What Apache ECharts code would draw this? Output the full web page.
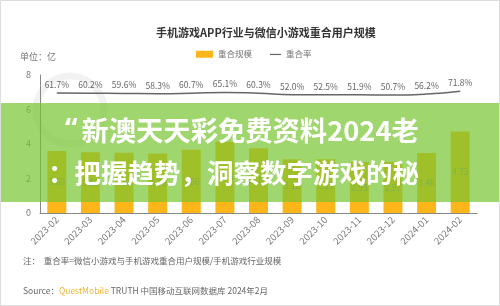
<!DOCTYPE html>
<html><head><meta charset="utf-8">
<script src="https://cdn.jsdelivr.net/npm/echarts@6/dist/echarts.min.js"></script>
<style>html,body{margin:0;padding:0;background:#fff}#c{width:500px;height:306px}</style>
</head><body><div id="c"></div>
<script>
const categories = ['2023-02','2023-03','2023-04','2023-05','2023-06','2023-07','2023-08','2023-09','2023-10','2023-11','2023-12','2024-01','2024-02'];
const overlapSize = [3.60, 3.52, 3.50, 3.45, 3.66, 4.15, 3.76, 3.12, 3.12, 2.95, 2.97, 3.48, 4.73];
const overlapRate = [61.7, 60.2, 59.6, 58.3, 60.7, 65.1, 60.3, 52.0, 52.5, 51.9, 50.7, 56.2, 71.8];
const yTicks = [0, 2, 4, 6, 8];
const titleText = '手机游戏APP行业与微信小游戏重合用户规模';
const seriesNames = ['重合规模', '重合率'];

const FONT = '"Noto Sans CJK SC", "Noto Sans", sans-serif';
const chart = echarts.init(document.getElementById('c'), null, {renderer: 'canvas'});
chart.setOption({
  animation: false,
  backgroundColor: '#fff',
  textStyle: {fontFamily: FONT},
  title: {
    text: titleText, left: 151, top: 22,
    textStyle: {fontSize: 11, fontWeight: 'bold', color: '#333', fontFamily: FONT}
  },
  legend: {
    left: 191, top: 45, itemWidth: 17, itemHeight: 7, itemGap: 12,
    textStyle: {fontSize: 8.5, color: '#777', fontFamily: FONT},
    data: [
      {name: seriesNames[0], icon: 'rect'},
      {name: seriesNames[1], icon: 'path://M0,0M6,3.1H17V4.3H6ZM17,7'}
    ]
  },
  grid: {left: 40, right: 23, top: 75, bottom: 93, containLabel: false},
  xAxis: {
    type: 'category', data: categories,
    axisLine: {show: true, lineStyle: {color: '#888', width: 1}},
    axisTick: {show: false},
    axisLabel: {rotate: 45, interval: 0, fontSize: 9.5, color: '#777', margin: 5, fontFamily: FONT}
  },
  yAxis: [
    {
      type: 'value', min: yTicks[0], max: yTicks[yTicks.length - 1], interval: 2,
      name: '单位：亿', nameLocation: 'end', nameGap: 14,
      nameTextStyle: {fontSize: 9, color: '#777', align: 'right', padding: [0, -16, 0, 0], fontFamily: FONT},
      axisLine: {show: true, lineStyle: {color: '#888', width: 1}},
      axisTick: {show: false},
      splitLine: {show: false},
      axisLabel: {fontSize: 9, color: '#777', margin: 9, fontFamily: FONT}
    },
    {
      type: 'value', min: -605, max: 162, show: false,
      splitLine: {show: false}
    }
  ],
  series: [
    {
      name: seriesNames[0], type: 'bar', data: overlapSize, barWidth: 19,
      itemStyle: {color: '#FDB61A'},
      label: {show: true, position: 'inside', fontSize: 8.5, color: '#888',
        formatter: p => p.value.toFixed(2), fontFamily: FONT}
    },
    {
      name: seriesNames[1], type: 'line', yAxisIndex: 1, data: overlapRate,
      smooth: true, symbol: 'circle', symbolSize: 0, showSymbol: true,
      lineStyle: {color: '#666', width: 1.5},
      itemStyle: {color: '#666'},
      label: {show: true, position: 'top', distance: 4, fontSize: 8.5, color: '#666',
        formatter: p => p.value.toFixed(1) + '%', fontFamily: FONT}
    }
  ],
  graphic: [
    {type: 'circle', shape: {cx: 70, cy: 110, r: 34}, style: {fill: 'none', stroke: 'rgba(0,0,0,0.05)', lineWidth: 7}, z: 0, silent: true},
    {type: 'rect', shape: {x: 0, y: 103, width: 500, height: 99}, style: {fill: 'rgba(119,196,48,0.7)'}, z: 100, silent: true},
    {type: 'text', left: 65, top: 117, z: 101, silent: true,
      style: {text: '{q|“}{t|新澳天天彩免费资料2024老}',
        rich: {
          q: {fill: '#fff', fontSize: 28, fontWeight: 'bold', fontFamily: '"Noto Sans", sans-serif', padding: [0, 4, 0, 0]},
          t: {fill: '#fff', fontSize: 27.3, fontWeight: 'bold', fontFamily: '"Noto Sans CJK SC", sans-serif'}
        }}},
    {type: 'text', left: 48, top: 160, z: 101, silent: true,
      style: {text: '：把握趋势，洞察数字游戏的秘', fill: '#fff', font: 'bold 26.5px "Noto Sans CJK SC", sans-serif'}},
    {type: 'text', left: 23, top: 257, z: 50, silent: true,
      style: {text: '注：  重合率=微信小游戏与手机游戏重合用户规模/手机游戏行业规模', fill: '#666', font: '8.5px "Noto Sans CJK SC", sans-serif'}},
    {type: 'text', left: 23, top: 287, z: 50, silent: true,
      style: {text: '{a|Source：}{b|QuestMobile}{a| TRUTH 中国移动互联网数据库 2024年2月}',
        rich: {
          a: {fill: '#666', fontSize: 8.5, fontFamily: FONT},
          b: {fill: '#F2B53A', fontSize: 8.5, fontFamily: FONT}
        }}},
    {type: 'rect', shape: {x: 0.5, y: 0.5, width: 499, height: 305}, style: {fill: 'none', stroke: '#ddd', lineWidth: 1}, z: 200, silent: true}
  ]
});
</script></body></html>
